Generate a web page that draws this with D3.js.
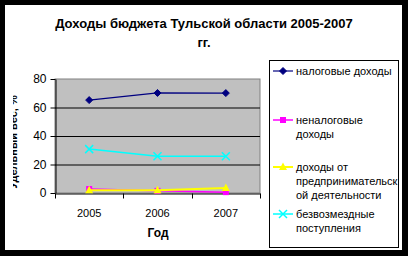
<!DOCTYPE html>
<html>
<head>
<meta charset="utf-8">
<title>Доходы бюджета Тульской области</title>
<script src="https://d3js.org/d3.v7.min.js"></script>
<style>
  body { margin: 0; background: #000; }
  svg { display: block; font-family: "Liberation Sans", Arial, sans-serif; }
</style>
</head>
<body>
<div id="chart"></div>
<script>
// Data
var years = ["2005", "2006", "2007"];
var seriesNames = ["налоговые доходы", "неналоговые доходы", "доходы от предпринимательской деятельности", "безвозмездные поступления"];
var legendLines = [["налоговые доходы"], ["неналоговые", "доходы"], ["доходы от", "предпринимательск", "ой деятельности"], ["безвозмездные", "поступления"]];
var taxIncome = [65.2, 70.2, 70.1];
var nonTaxIncome = [2.8, 1.5, 0.6];
var businessIncome = [2.0, 2.0, 3.5];
var grants = [30.8, 25.8, 25.8];
var yTicks = [0, 20, 40, 60, 80];

var allSeries = [taxIncome, nonTaxIncome, businessIncome, grants];
var colors = ["#000080", "#FF00FF", "#FFFF00", "#00FFFF"];
var markers = ["diamond", "square", "triangle", "cross"];
var widths = [1.2, 1.5, 2, 1.5];

var W = 408, H = 256;
var svg = d3.select("#chart").append("svg").attr("width", W).attr("height", H);

// white page inside black frame
svg.append("rect").attr("x", 5).attr("y", 5).attr("width", 397).attr("height", 245).attr("fill", "#fff");

// title
svg.append("text").attr("x", 204).attr("y", 28).attr("text-anchor", "middle")
  .attr("font-size", 13).attr("font-weight", "bold").text("Доходы бюджета Тульской области 2005-2007");
svg.append("text").attr("x", 204).attr("y", 47).attr("text-anchor", "middle")
  .attr("font-size", 13).attr("font-weight", "bold").text("гг.");

// scales
var plotL = 55, plotR = 260, plotT = 79, plotB = 193;
var x = d3.scaleBand().domain(years).range([plotL, plotR]).padding(0);
var y = d3.scaleLinear().domain([0, 80]).range([plotB, plotT]);

// plot area
svg.append("rect").attr("x", plotL).attr("y", plotT).attr("width", plotR - plotL).attr("height", plotB - plotT)
  .attr("fill", "#C0C0C0").attr("stroke", "#808080").attr("stroke-width", 1);

// gridlines
svg.append("g").selectAll("line").data(yTicks.filter(function (d) { return d > 0 && d < 80; }))
  .enter().append("line")
  .attr("x1", plotL).attr("x2", plotR)
  .attr("y1", function (d) { return y(d) + 0.5; }).attr("y2", function (d) { return y(d) + 0.5; })
  .attr("stroke", "#000").attr("stroke-width", 1);

// y axis
var yAxis = svg.append("g").attr("transform", "translate(" + (plotL + 0.5) + ",0)")
  .call(d3.axisLeft(y).tickValues(yTicks).tickSize(5).tickSizeOuter(0));
yAxis.select(".domain").attr("stroke", "#000");
yAxis.selectAll("text").attr("font-size", 12).attr("fill", "#000").attr("x", -9)
  .attr("font-family", "Liberation Sans, Arial, sans-serif");

// x axis: labels in band centres, ticks at band boundaries
var xAxis = svg.append("g").attr("transform", "translate(0," + (plotB + 0.5) + ")")
  .call(d3.axisBottom(x).tickSize(0).tickSizeOuter(0));
xAxis.select(".domain").attr("stroke", "#000");
xAxis.selectAll("text").attr("font-size", 11).attr("fill", "#000").attr("dy", 0).attr("y", 23)
  .attr("font-family", "Liberation Sans, Arial, sans-serif");
var bounds = years.map(function (d) { return x(d); }).concat([x(years[years.length - 1]) + x.bandwidth()]);
xAxis.selectAll("line.bound").data(bounds).enter().append("line").attr("class", "bound")
  .attr("x1", function (d) { return Math.round(d) + 0.5; }).attr("x2", function (d) { return Math.round(d) + 0.5; })
  .attr("y1", 0).attr("y2", 5).attr("stroke", "#000");

// axis titles
svg.append("text").attr("x", 158).attr("y", 237).attr("text-anchor", "middle")
  .attr("font-size", 12).attr("font-weight", "bold").text("Год");
// y title is partly cut off in the original
svg.append("clipPath").attr("id", "ytclip").append("rect").attr("x", 13).attr("y", 0).attr("width", 20).attr("height", H);
svg.append("g").attr("clip-path", "url(#ytclip)")
  .append("text").attr("transform", "translate(17,142) rotate(-90)").attr("text-anchor", "middle")
  .attr("font-size", 11).attr("font-weight", "bold").text("Удельный вес, %");

// marker drawing
function drawMarker(g, type, color, cx, cy) {
  if (type === "diamond") {
    g.append("path").attr("d", "M" + cx + "," + (cy - 3.5) + "L" + (cx + 3.5) + "," + cy + "L" + cx + "," + (cy + 3.5) + "L" + (cx - 3.5) + "," + cy + "Z")
      .attr("fill", color).attr("stroke", color);
  } else if (type === "square") {
    g.append("rect").attr("x", cx - 3).attr("y", cy - 3).attr("width", 6).attr("height", 6).attr("fill", color);
  } else if (type === "triangle") {
    g.append("path").attr("d", "M" + cx + "," + (cy - 4.5) + "L" + (cx + 4) + "," + (cy + 3) + "L" + (cx - 4) + "," + (cy + 3) + "Z")
      .attr("fill", color);
  } else {
    g.append("path").attr("d", "M" + (cx - 4) + "," + (cy - 4) + "L" + (cx + 4) + "," + (cy + 4) + "M" + (cx + 4) + "," + (cy - 4) + "L" + (cx - 4) + "," + (cy + 4))
      .attr("stroke", color).attr("stroke-width", 1.5);
  }
}

// lines + markers
var line = d3.line()
  .x(function (d, i) { return x(years[i]) + x.bandwidth() / 2; })
  .y(function (d) { return y(d); });

allSeries.forEach(function (s, k) {
  var g = svg.append("g");
  g.append("path").datum(s).attr("d", line).attr("fill", "none")
    .attr("stroke", colors[k]).attr("stroke-width", widths[k]);
  s.forEach(function (v, i) {
    drawMarker(g, markers[k], colors[k], x(years[i]) + x.bandwidth() / 2, y(v));
  });
});

// legend
svg.append("rect").attr("x", 269.5).attr("y", 60.5).attr("width", 129).attr("height", 187)
  .attr("fill", "#fff").attr("stroke", "#000");
var legendY = [71, 120, 167, 214];
legendLines.forEach(function (lines, k) {
  var g = svg.append("g");
  var ly = legendY[k];
  g.append("line").attr("x1", 273).attr("x2", 293).attr("y1", ly).attr("y2", ly)
    .attr("stroke", colors[k]).attr("stroke-width", widths[k]);
  drawMarker(g, markers[k], colors[k], 283, ly);
  lines.forEach(function (t, j) {
    g.append("text").attr("x", 296).attr("y", ly + 4 + j * 14)
      .attr("font-size", 11).attr("fill", "#000").text(t);
  });
});
</script>
</body>
</html>
